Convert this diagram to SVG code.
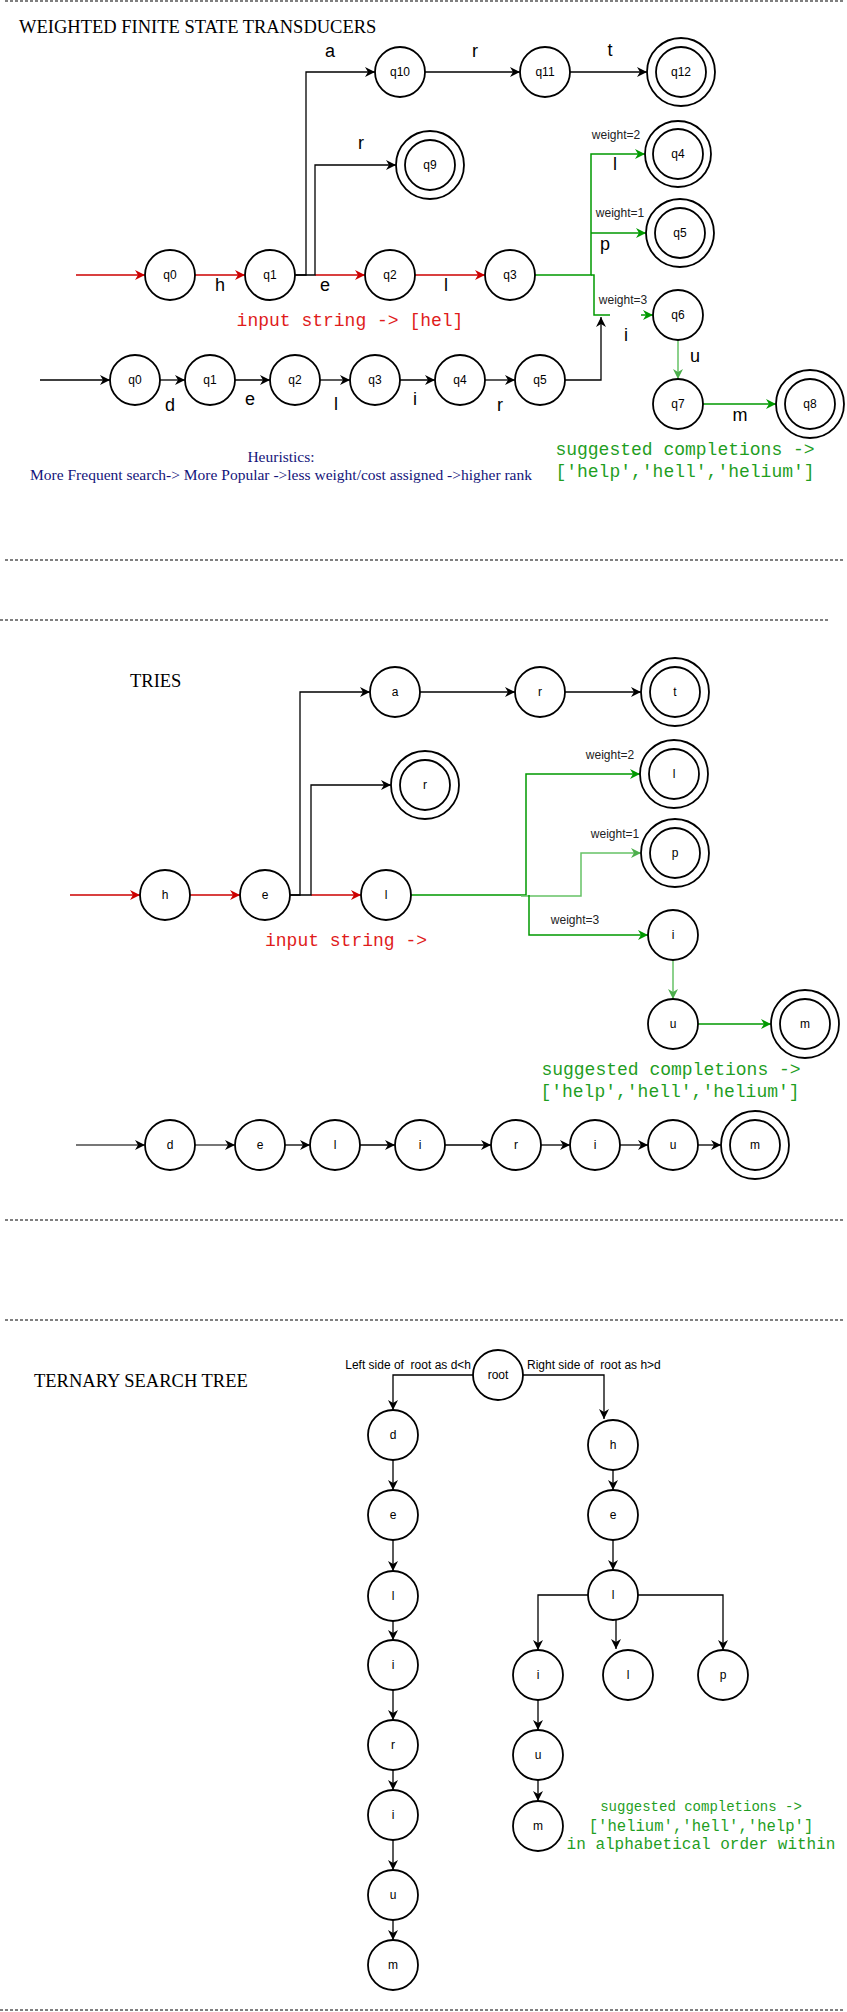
<svg xmlns="http://www.w3.org/2000/svg" width="847" height="2012" viewBox="0 0 847 2012">
<style>
.n{fill:#fff;stroke:#000;stroke-width:1.8}
.nl{font-family:"Liberation Sans",Arial,sans-serif;font-size:12px;text-anchor:middle;fill:#000}
.el{font-family:"Liberation Sans",Arial,sans-serif;font-size:18px;text-anchor:middle;fill:#000}
.w{font-family:"Liberation Sans",Arial,sans-serif;font-size:12px;text-anchor:middle;fill:#222}
.title{font-family:"Liberation Serif","Times New Roman",serif;font-size:18.5px;fill:#000}
.mono{font-family:"Liberation Mono","Courier New",monospace;text-anchor:middle}
.dash{stroke:#000;stroke-width:1.2;stroke-dasharray:3,2;fill:none}
.k{stroke:#000;stroke-width:1.3;fill:none}
.red{stroke:#cc0000;stroke-width:1.5;fill:none}
.grn{stroke:#009900;stroke-width:1.5;fill:none}
.lg{stroke:#66c266;stroke-width:1.5;fill:none}
.gry{stroke:#777;stroke-width:2;fill:none}
</style>
<defs>
<marker id="ak" markerWidth="10" markerHeight="10" refX="10" refY="5" orient="auto" markerUnits="userSpaceOnUse" viewBox="0 0 10 10"><path d="M0,0 L10,5 L0,10 L3,5 z" fill="#000"/></marker>
<marker id="ar" markerWidth="10" markerHeight="10" refX="10" refY="5" orient="auto" markerUnits="userSpaceOnUse" viewBox="0 0 10 10"><path d="M0,0 L10,5 L0,10 L3,5 z" fill="#cc0000"/></marker>
<marker id="ag" markerWidth="10" markerHeight="10" refX="10" refY="5" orient="auto" markerUnits="userSpaceOnUse" viewBox="0 0 10 10"><path d="M0,0 L10,5 L0,10 L3,5 z" fill="#009900"/></marker>
<marker id="alg" markerWidth="10" markerHeight="10" refX="10" refY="5" orient="auto" markerUnits="userSpaceOnUse" viewBox="0 0 10 10"><path d="M0,0 L10,5 L0,10 L3,5 z" fill="#4cae4c"/></marker>
</defs>

<!-- separators -->
<g id="separators">
<line class="dash" x1="5" y1="1" x2="843" y2="1"/>
<line class="dash" x1="5" y1="560" x2="843" y2="560"/>
<line class="dash" x1="0" y1="620" x2="830" y2="620"/>
<line class="dash" x1="5" y1="1220" x2="843" y2="1220"/>
<line class="dash" x1="5" y1="1320" x2="843" y2="1320"/>
<line class="dash" x1="0" y1="2010" x2="843" y2="2010"/>
</g>

<!-- texts -->
<g id="texts">
<text class="title" x="19" y="33">WEIGHTED FINITE STATE TRANSDUCERS</text>
<text class="title" x="130" y="687">TRIES</text>
<text class="title" x="34" y="1387">TERNARY SEARCH TREE</text>
<text class="mono" x="350" y="326" font-size="18" fill="#e01b1b">input string -&gt; [hel]</text>
<text class="mono" x="346" y="946" font-size="18" fill="#e01b1b">input string -&gt;</text>
<text class="mono" x="685" y="455" font-size="18" fill="#1f9e1f">suggested completions -&gt;</text>
<text class="mono" x="685" y="477" font-size="18" fill="#1f9e1f">['help','hell','helium']</text>
<text class="mono" x="671" y="1075" font-size="18" fill="#1f9e1f">suggested completions -&gt;</text>
<text class="mono" x="670" y="1097" font-size="18" fill="#1f9e1f">['help','hell','helium']</text>
<text class="mono" x="701" y="1811" font-size="14" fill="#1f9e1f">suggested completions -&gt;</text>
<text class="mono" x="701" y="1831" font-size="15.6" fill="#1f9e1f">['helium','hell','help']</text>
<text class="mono" x="701" y="1849" font-size="16" fill="#1f9e1f">in alphabetical order within</text>
<text x="281" y="462" font-family="'Liberation Serif','Times New Roman',serif" font-size="15.5" text-anchor="middle" fill="#14147a">Heuristics:</text>
<text x="281" y="480" font-family="'Liberation Serif','Times New Roman',serif" font-size="15.5" text-anchor="middle" fill="#14147a" textLength="502" lengthAdjust="spacingAndGlyphs">More Frequent search-&gt; More Popular -&gt;less weight/cost assigned -&gt;higher rank</text>
<text class="w" x="616" y="139">weight=2</text>
<text class="w" x="620" y="217">weight=1</text>
<text class="w" x="623" y="304">weight=3</text>
<text class="w" x="610" y="759">weight=2</text>
<text class="w" x="615" y="838">weight=1</text>
<text class="w" x="575" y="924">weight=3</text>
<text x="471" y="1369" xml:space="preserve" font-family="'Liberation Sans',Arial,sans-serif" font-size="12" text-anchor="end" fill="#000">Left side of  root as d&lt;h</text>
<text x="527" y="1369" xml:space="preserve" font-family="'Liberation Sans',Arial,sans-serif" font-size="12" fill="#000">Right side of  root as h&gt;d</text>
</g>

<!-- edge labels -->
<g id="edge-labels">
<text class="el" x="330" y="57">a</text>
<text class="el" x="475" y="57">r</text>
<text class="el" x="610" y="56">t</text>
<text class="el" x="361" y="149">r</text>
<text class="el" x="615" y="170">l</text>
<text class="el" x="605" y="250">p</text>
<text class="el" x="220" y="291">h</text>
<text class="el" x="325" y="291">e</text>
<text class="el" x="446" y="291">l</text>
<text class="el" x="626" y="341">i</text>
<text class="el" x="695" y="362">u</text>
<text class="el" x="740" y="421">m</text>
<text class="el" x="170" y="411">d</text>
<text class="el" x="250" y="405">e</text>
<text class="el" x="336" y="410">l</text>
<text class="el" x="415" y="405">i</text>
<text class="el" x="500" y="411">r</text>
</g>

<!-- connectors -->
<g id="connectors">
<path class="red" d="M76,275 H145" marker-end="url(#ar)"/>
<path class="red" d="M195,275 H245" marker-end="url(#ar)"/>
<path class="red" d="M315,275 H365" marker-end="url(#ar)"/>
<path class="red" d="M415,275 H485" marker-end="url(#ar)"/>
<path class="k" d="M295,275 H306 V72 H375" marker-end="url(#ak)"/>
<path class="k" d="M295,275 H315 V165 H396" marker-end="url(#ak)"/>
<path class="k" d="M425,72 H520" marker-end="url(#ak)"/>
<path class="k" d="M570,72 H647" marker-end="url(#ak)"/>
<path class="grn" d="M535,275 H591 V154 H645" marker-end="url(#ag)"/>
<path class="grn" d="M591,233 H646" marker-end="url(#ag)"/>
<path class="grn" d="M591,275 H594 V315 H610"/>
<path class="grn" d="M641,315 H653" marker-end="url(#ag)"/>
<path class="lg" d="M678,340 V379" marker-end="url(#alg)"/>
<path class="grn" d="M703,404 H776" marker-end="url(#ag)"/>
<path class="k" d="M40,380 H110" marker-end="url(#ak)"/>
<path class="k" d="M160,380 H185" marker-end="url(#ak)"/>
<path class="k" d="M235,380 H270" marker-end="url(#ak)"/>
<path class="k" d="M320,380 H350" marker-end="url(#ak)"/>
<path class="k" d="M400,380 H435" marker-end="url(#ak)"/>
<path class="k" d="M485,380 H515" marker-end="url(#ak)"/>
<path class="k" d="M565,380 H601 V317" marker-end="url(#ak)"/>
<path class="red" d="M70,895 H140" marker-end="url(#ar)"/>
<path class="red" d="M190,895 H240" marker-end="url(#ar)"/>
<path class="red" d="M311,895 H361" marker-end="url(#ar)"/>
<path class="k" d="M290,895 H300 V692 H370" marker-end="url(#ak)"/>
<path class="k" d="M290,895 H311 V785 H391" marker-end="url(#ak)"/>
<path class="k" d="M420,692 H515" marker-end="url(#ak)"/>
<path class="k" d="M565,692 H641" marker-end="url(#ak)"/>
<path class="grn" d="M411,895 H526 V774 H640" marker-end="url(#ag)"/>
<path class="lg" d="M521,896 H581 V853 H641" marker-end="url(#alg)"/>
<path class="grn" d="M529,895 V935 H648" marker-end="url(#ag)"/>
<path class="lg" d="M673,960 V999" marker-end="url(#alg)"/>
<path class="grn" d="M698,1024 H771" marker-end="url(#ag)"/>
<path class="gry" d="M76,1145 H145" marker-end="url(#ak)"/>
<path class="gry" d="M195,1145 H235" marker-end="url(#ak)"/>
<path class="k" d="M285,1145 H310" marker-end="url(#ak)"/>
<path class="k" d="M360,1145 H395" marker-end="url(#ak)"/>
<path class="k" d="M445,1145 H491" marker-end="url(#ak)"/>
<path class="k" d="M541,1145 H570" marker-end="url(#ak)"/>
<path class="k" d="M620,1145 H648" marker-end="url(#ak)"/>
<path class="k" d="M698,1145 H721" marker-end="url(#ak)"/>
<path class="k" d="M473,1375 H393 V1410" marker-end="url(#ak)"/>
<path class="k" d="M523,1375 H604 V1419" marker-end="url(#ak)"/>
<path class="k" d="M393,1460 V1490" marker-end="url(#ak)"/>
<path class="k" d="M393,1540 V1571" marker-end="url(#ak)"/>
<path class="k" d="M393,1621 V1640" marker-end="url(#ak)"/>
<path class="k" d="M393,1690 V1720" marker-end="url(#ak)"/>
<path class="k" d="M393,1770 V1790" marker-end="url(#ak)"/>
<path class="k" d="M393,1840 V1870" marker-end="url(#ak)"/>
<path class="k" d="M393,1920 V1940" marker-end="url(#ak)"/>
<path class="k" d="M613,1470 V1490" marker-end="url(#ak)"/>
<path class="k" d="M613,1540 V1570" marker-end="url(#ak)"/>
<path class="k" d="M588,1595 H538 V1650" marker-end="url(#ak)"/>
<path class="k" d="M616,1620 V1649" marker-end="url(#ak)"/>
<path class="k" d="M638,1595 H723 V1650" marker-end="url(#ak)"/>
<path class="k" d="M538,1700 V1730" marker-end="url(#ak)"/>
<path class="k" d="M538,1780 V1801" marker-end="url(#ak)"/>
</g>

<!-- FST nodes -->
<g id="fst-q0"><circle class="n" cx="170" cy="275" r="25"/><text class="nl" x="170" y="279">q0</text></g>
<g id="fst-q1"><circle class="n" cx="270" cy="275" r="25"/><text class="nl" x="270" y="279">q1</text></g>
<g id="fst-q2"><circle class="n" cx="390" cy="275" r="25"/><text class="nl" x="390" y="279">q2</text></g>
<g id="fst-q3"><circle class="n" cx="510" cy="275" r="25"/><text class="nl" x="510" y="279">q3</text></g>
<g id="fst-q10"><circle class="n" cx="400" cy="72" r="25"/><text class="nl" x="400" y="76">q10</text></g>
<g id="fst-q11"><circle class="n" cx="545" cy="72" r="25"/><text class="nl" x="545" y="76">q11</text></g>
<g id="fst-q12"><circle class="n" cx="681" cy="72" r="34"/><circle class="n" cx="681" cy="72" r="25"/><text class="nl" x="681" y="76">q12</text></g>
<g id="fst-q9"><circle class="n" cx="430" cy="165" r="34"/><circle class="n" cx="430" cy="165" r="25"/><text class="nl" x="430" y="169">q9</text></g>
<g id="fst-q4"><circle class="n" cx="678" cy="154" r="33"/><circle class="n" cx="678" cy="154" r="25"/><text class="nl" x="678" y="158">q4</text></g>
<g id="fst-q5"><circle class="n" cx="680" cy="233" r="34"/><circle class="n" cx="680" cy="233" r="25"/><text class="nl" x="680" y="237">q5</text></g>
<g id="fst-q6"><circle class="n" cx="678" cy="315" r="25"/><text class="nl" x="678" y="319">q6</text></g>
<g id="fst-q7"><circle class="n" cx="678" cy="404" r="25"/><text class="nl" x="678" y="408">q7</text></g>
<g id="fst-q8"><circle class="n" cx="810" cy="404" r="34"/><circle class="n" cx="810" cy="404" r="25"/><text class="nl" x="810" y="408">q8</text></g>
<g id="fst-b-q0"><circle class="n" cx="135" cy="380" r="25"/><text class="nl" x="135" y="384">q0</text></g>
<g id="fst-b-q1"><circle class="n" cx="210" cy="380" r="25"/><text class="nl" x="210" y="384">q1</text></g>
<g id="fst-b-q2"><circle class="n" cx="295" cy="380" r="25"/><text class="nl" x="295" y="384">q2</text></g>
<g id="fst-b-q3"><circle class="n" cx="375" cy="380" r="25"/><text class="nl" x="375" y="384">q3</text></g>
<g id="fst-b-q4"><circle class="n" cx="460" cy="380" r="25"/><text class="nl" x="460" y="384">q4</text></g>
<g id="fst-b-q5"><circle class="n" cx="540" cy="380" r="25"/><text class="nl" x="540" y="384">q5</text></g>

<!-- TRIES nodes -->
<g id="trie-h"><circle class="n" cx="165" cy="895" r="25"/><text class="nl" x="165" y="899">h</text></g>
<g id="trie-e"><circle class="n" cx="265" cy="895" r="25"/><text class="nl" x="265" y="899">e</text></g>
<g id="trie-l"><circle class="n" cx="386" cy="895" r="25"/><text class="nl" x="386" y="899">l</text></g>
<g id="trie-a"><circle class="n" cx="395" cy="692" r="25"/><text class="nl" x="395" y="696">a</text></g>
<g id="trie-r"><circle class="n" cx="540" cy="692" r="25"/><text class="nl" x="540" y="696">r</text></g>
<g id="trie-t"><circle class="n" cx="675" cy="692" r="34"/><circle class="n" cx="675" cy="692" r="25"/><text class="nl" x="675" y="696">t</text></g>
<g id="trie-r2"><circle class="n" cx="425" cy="785" r="34"/><circle class="n" cx="425" cy="785" r="25"/><text class="nl" x="425" y="789">r</text></g>
<g id="trie-l2"><circle class="n" cx="674" cy="774" r="34"/><circle class="n" cx="674" cy="774" r="25"/><text class="nl" x="674" y="778">l</text></g>
<g id="trie-p"><circle class="n" cx="675" cy="853" r="34"/><circle class="n" cx="675" cy="853" r="25"/><text class="nl" x="675" y="857">p</text></g>
<g id="trie-i"><circle class="n" cx="673" cy="935" r="25"/><text class="nl" x="673" y="939">i</text></g>
<g id="trie-u"><circle class="n" cx="673" cy="1024" r="25"/><text class="nl" x="673" y="1028">u</text></g>
<g id="trie-m"><circle class="n" cx="805" cy="1024" r="34"/><circle class="n" cx="805" cy="1024" r="25"/><text class="nl" x="805" y="1028">m</text></g>
<g id="trie-b-d"><circle class="n" cx="170" cy="1145" r="25"/><text class="nl" x="170" y="1149">d</text></g>
<g id="trie-b-e"><circle class="n" cx="260" cy="1145" r="25"/><text class="nl" x="260" y="1149">e</text></g>
<g id="trie-b-l"><circle class="n" cx="335" cy="1145" r="25"/><text class="nl" x="335" y="1149">l</text></g>
<g id="trie-b-i"><circle class="n" cx="420" cy="1145" r="25"/><text class="nl" x="420" y="1149">i</text></g>
<g id="trie-b-r"><circle class="n" cx="516" cy="1145" r="25"/><text class="nl" x="516" y="1149">r</text></g>
<g id="trie-b-i2"><circle class="n" cx="595" cy="1145" r="25"/><text class="nl" x="595" y="1149">i</text></g>
<g id="trie-b-u"><circle class="n" cx="673" cy="1145" r="25"/><text class="nl" x="673" y="1149">u</text></g>
<g id="trie-b-m"><circle class="n" cx="755" cy="1145" r="34"/><circle class="n" cx="755" cy="1145" r="25"/><text class="nl" x="755" y="1149">m</text></g>

<!-- TST nodes -->
<g id="tst-root"><circle class="n" cx="498" cy="1375" r="25"/><text class="nl" x="498" y="1379">root</text></g>
<g id="tst-d"><circle class="n" cx="393" cy="1435" r="25"/><text class="nl" x="393" y="1439">d</text></g>
<g id="tst-e1"><circle class="n" cx="393" cy="1515" r="25"/><text class="nl" x="393" y="1519">e</text></g>
<g id="tst-l1"><circle class="n" cx="393" cy="1596" r="25"/><text class="nl" x="393" y="1600">l</text></g>
<g id="tst-i1"><circle class="n" cx="393" cy="1665" r="25"/><text class="nl" x="393" y="1669">i</text></g>
<g id="tst-r"><circle class="n" cx="393" cy="1745" r="25"/><text class="nl" x="393" y="1749">r</text></g>
<g id="tst-i2"><circle class="n" cx="393" cy="1815" r="25"/><text class="nl" x="393" y="1819">i</text></g>
<g id="tst-u1"><circle class="n" cx="393" cy="1895" r="25"/><text class="nl" x="393" y="1899">u</text></g>
<g id="tst-m1"><circle class="n" cx="393" cy="1965" r="25"/><text class="nl" x="393" y="1969">m</text></g>
<g id="tst-h"><circle class="n" cx="613" cy="1445" r="25"/><text class="nl" x="613" y="1449">h</text></g>
<g id="tst-e2"><circle class="n" cx="613" cy="1515" r="25"/><text class="nl" x="613" y="1519">e</text></g>
<g id="tst-l2"><circle class="n" cx="613" cy="1595" r="25"/><text class="nl" x="613" y="1599">l</text></g>
<g id="tst-i3"><circle class="n" cx="538" cy="1675" r="25"/><text class="nl" x="538" y="1679">i</text></g>
<g id="tst-l3"><circle class="n" cx="628" cy="1675" r="25"/><text class="nl" x="628" y="1679">l</text></g>
<g id="tst-p"><circle class="n" cx="723" cy="1675" r="25"/><text class="nl" x="723" y="1679">p</text></g>
<g id="tst-u2"><circle class="n" cx="538" cy="1755" r="25"/><text class="nl" x="538" y="1759">u</text></g>
<g id="tst-m2"><circle class="n" cx="538" cy="1826" r="25"/><text class="nl" x="538" y="1830">m</text></g>
</svg>
